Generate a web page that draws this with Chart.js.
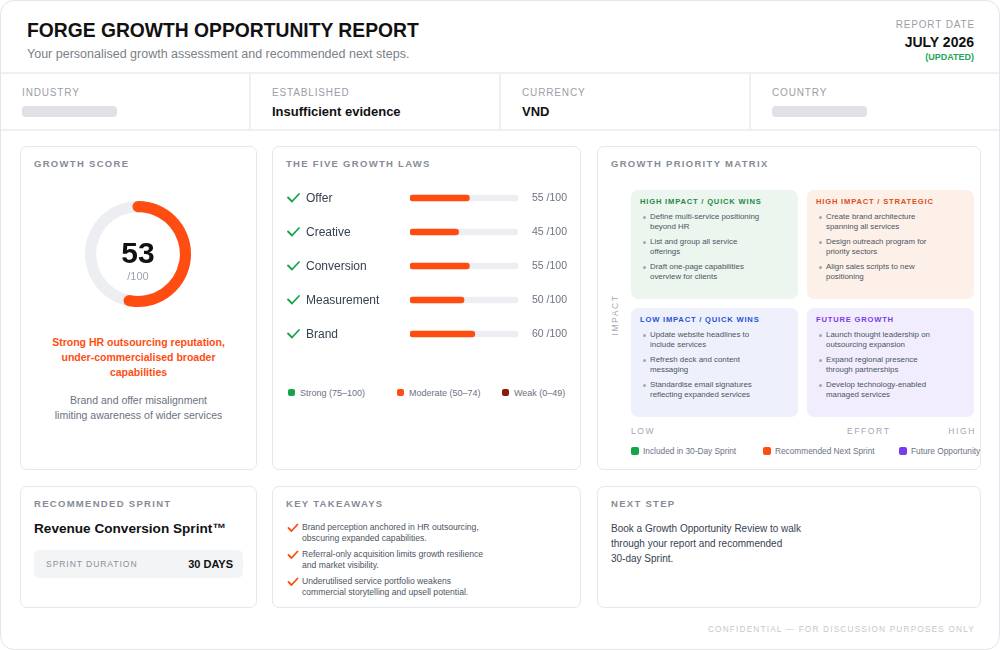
<!DOCTYPE html>
<html>
<head>
<meta charset="utf-8">
<script src="https://cdn.jsdelivr.net/npm/chart.js@4.4.1/dist/chart.umd.min.js"></script>
<style>
  html, body { margin: 0; padding: 0; background: #ffffff; }
  body { width: 1000px; height: 650px; position: relative; overflow: hidden;
         font-family: "Liberation Sans", Arial, sans-serif; color: #111827; }
  .frame { position: absolute; left: 0; top: 0; width: 998px; height: 648px;
           border: 1px solid #e3e5e9; border-radius: 14px; }
  .abs { position: absolute; white-space: nowrap; }
  .hline { position: absolute; left: 1px; width: 998px; height: 2px; background: #eff0f3; }
  .vline { position: absolute; top: 74px; width: 2px; height: 56px; background: #eff0f3; }
  .lbl { font-size: 10px; line-height: 12px; letter-spacing: 0.85px; color: #9a9ea6; }
  .val { font-size: 13px; line-height: 16px; font-weight: bold; color: #111111; }
  .ph { position: absolute; width: 95px; height: 11px; border-radius: 4px; background: #dfe1e6; }
  .card { position: absolute; border: 1px solid #e6e8ec; border-radius: 7px; background: #fff; box-sizing: border-box; }
  .ctitle { font-size: 9.5px; line-height: 12px; font-weight: bold; letter-spacing: 1.3px; color: #868b94; }
  .leg { font-size: 9px; line-height: 11px; color: #6b7280; }
  .sq { position: absolute; width: 8px; height: 8px; border-radius: 2px; }
  .quad { position: absolute; width: 167px; height: 109px; border-radius: 7px; }
  .qt { position: absolute; left: 9px; top: 7px; font-size: 7.6px; line-height: 10px; font-weight: bold; letter-spacing: 0.8px; white-space: nowrap; }
  .qi { position: absolute; left: 19px; font-size: 7.9px; line-height: 10.5px; color: #4b5563; white-space: nowrap; }
  .qi::before { content: ""; position: absolute; left: -7px; top: 4px; width: 3px; height: 3px; border-radius: 50%; background: #a3a7ae; }
  .axl { font-size: 8.5px; line-height: 10px; letter-spacing: 1.6px; color: #a3a7ae; }
  .kt { position: absolute; left: 16px; font-size: 8.6px; line-height: 11px; color: #4b5563; white-space: nowrap; }
</style>
</head>
<body>
<div class="frame"></div>

<!-- header -->
<div class="abs" style="left:27px;top:19px;font-size:19.3px;line-height:24px;font-weight:bold;color:#111;">FORGE GROWTH OPPORTUNITY REPORT</div>
<div class="abs" style="left:27px;top:46px;font-size:12.5px;line-height:16px;color:#7a7f88;">Your personalised growth assessment and recommended next steps.</div>
<div class="abs lbl" style="right:25px;top:19px;">REPORT DATE</div>
<div class="abs" style="right:26px;top:34px;font-size:14px;line-height:16px;font-weight:bold;color:#111;">JULY 2026</div>
<div class="abs" style="right:26px;top:52px;font-size:9px;line-height:11px;font-weight:bold;color:#22a75a;">(UPDATED)</div>

<div class="hline" style="top:72px;"></div>
<div class="hline" style="top:129px;"></div>
<div class="vline" style="left:249px;"></div>
<div class="vline" style="left:499px;"></div>
<div class="vline" style="left:749px;"></div>

<div id="infoRow"></div>

<!-- growth score -->
<div class="card" style="left:20px;top:146px;width:237px;height:324px;"></div>
<div class="abs ctitle" style="left:34px;top:158px;">GROWTH SCORE</div>
<canvas id="scoreChart" width="108" height="108" style="position:absolute;left:84px;top:200px;"></canvas>
<div class="abs" id="scoreNum" style="left:88px;width:100px;text-align:center;top:237px;font-size:30px;line-height:32px;font-weight:bold;color:#111;"></div>
<div class="abs" style="left:88px;width:100px;text-align:center;top:270px;font-size:11px;line-height:13px;color:#9ca3af;">/100</div>
<div class="abs" style="left:20px;width:237px;text-align:center;top:335px;font-size:10.5px;line-height:15px;font-weight:bold;color:#ff4d12;">Strong HR outsourcing reputation,<br>under-commercialised broader<br>capabilities</div>
<div class="abs" style="left:20px;width:237px;text-align:center;top:393px;font-size:10.5px;line-height:15px;color:#6b7280;">Brand and offer misalignment<br>limiting awareness of wider services</div>

<!-- five growth laws -->
<div class="card" style="left:272px;top:146px;width:309px;height:324px;"></div>
<div class="abs ctitle" style="left:286px;top:158px;">THE FIVE GROWTH LAWS</div>
<canvas id="lawsChart" width="284" height="170" style="position:absolute;left:286px;top:181px;"></canvas>
<div id="lawsLegend"></div>

<!-- matrix -->
<div class="card" style="left:597px;top:146px;width:384px;height:324px;"></div>
<div class="abs ctitle" style="left:611px;top:158px;">GROWTH PRIORITY MATRIX</div>
<div class="abs axl" style="left:585px;top:310px;width:60px;text-align:center;transform:rotate(-90deg);">IMPACT</div>
<div id="matrix"></div>
<div class="abs axl" style="left:631px;top:426px;">LOW</div>
<div class="abs axl" style="left:847px;top:426px;">EFFORT</div>
<div class="abs axl" style="right:24px;top:426px;">HIGH</div>
<div id="matrixLegend"></div>

<!-- bottom row -->
<div class="card" style="left:20px;top:486px;width:237px;height:122px;"></div>
<div class="abs ctitle" style="left:34px;top:498px;">RECOMMENDED SPRINT</div>
<div class="abs" style="left:34px;top:520px;font-size:13.6px;line-height:18px;font-weight:bold;color:#111;">Revenue Conversion Sprint™</div>
<div class="abs" style="left:34px;top:550px;width:209px;height:28px;border-radius:5px;background:#f3f4f6;"></div>
<div class="abs" style="left:46px;top:559px;font-size:8.6px;line-height:11px;letter-spacing:0.9px;color:#8b9099;">SPRINT DURATION</div>
<div class="abs" style="right:767px;top:557px;font-size:11px;line-height:14px;font-weight:bold;color:#111;">30 DAYS</div>

<div class="card" style="left:272px;top:486px;width:309px;height:122px;"></div>
<div class="abs ctitle" style="left:286px;top:498px;">KEY TAKEAWAYS</div>
<div id="takeaways" style="position:absolute;left:286px;top:522px;"></div>

<div class="card" style="left:597px;top:486px;width:384px;height:122px;"></div>
<div class="abs ctitle" style="left:611px;top:498px;">NEXT STEP</div>
<div class="abs" style="left:611px;top:521px;font-size:10px;line-height:15px;color:#374151;">Book a Growth Opportunity Review to walk<br>through your report and recommended<br>30-day Sprint.</div>

<div class="abs" style="right:25px;top:624px;font-size:8.3px;line-height:10px;letter-spacing:1.15px;color:#c4c8ce;">CONFIDENTIAL — FOR DISCUSSION PURPOSES ONLY</div>

<script>
// ---- data ----
const infoLabels = ["INDUSTRY", "ESTABLISHED", "CURRENCY", "COUNTRY"];
const infoValues = [null, "Insufficient evidence", "VND", null];

const scoreParts = [53, 47];          // score, remainder out of 100
const lawNames = ["Offer", "Creative", "Conversion", "Measurement", "Brand"];
const lawScores = [55, 45, 55, 50, 60];
const lawTrack = [100, 100, 100, 100, 100];
const lawLegend = ["Strong (75–100)", "Moderate (50–74)", "Weak (0–49)"];
const lawLegendColors = ["#16a34a", "#ff4d12", "#8a1c0f"];

const quadTitles = ["HIGH IMPACT / QUICK WINS", "HIGH IMPACT / STRATEGIC", "LOW IMPACT / QUICK WINS", "FUTURE GROWTH"];
const quadItems = [
  [["Define multi-service positioning", "beyond HR"], ["List and group all service", "offerings"], ["Draft one-page capabilities", "overview for clients"]],
  [["Create brand architecture", "spanning all services"], ["Design outreach program for", "priority sectors"], ["Align sales scripts to new", "positioning"]],
  [["Update website headlines to", "include services"], ["Refresh deck and content", "messaging"], ["Standardise email signatures", "reflecting expanded services"]],
  [["Launch thought leadership on", "outsourcing expansion"], ["Expand regional presence", "through partnerships"], ["Develop technology-enabled", "managed services"]]
];
const matrixLegend = ["Included in 30-Day Sprint", "Recommended Next Sprint", "Future Opportunity"];

const takeaways = [
  ["Brand perception anchored in HR outsourcing,", "obscuring expanded capabilities."],
  ["Referral-only acquisition limits growth resilience", "and market visibility."],
  ["Underutilised service portfolio weakens", "commercial storytelling and upsell potential."]
];

const ORANGE = "#ff4d12";
const TRACK = "#eceef2";
Chart.defaults.font.family = '"Liberation Sans", Arial, sans-serif';

// ---- info row ----
let html = "";
infoLabels.forEach((l, i) => {
  const x = 22 + i * 250;
  html += `<div class="abs lbl" style="left:${x}px;top:87px;">${l}</div>`;
  if (infoValues[i]) html += `<div class="abs val" style="left:${x}px;top:104px;">${infoValues[i]}</div>`;
  else html += `<div class="ph" style="left:${x}px;top:106px;"></div>`;
});
document.getElementById("infoRow").innerHTML = html;

// ---- score doughnut ----
document.getElementById("scoreNum").textContent = scoreParts[0];
const ringTrack = {
  id: "ringTrack",
  beforeDatasetsDraw(chart) {
    const a = chart.getDatasetMeta(0).data[0];
    const c = chart.ctx;
    c.save();
    c.beginPath();
    c.arc(a.x, a.y, a.outerRadius, 0, Math.PI * 2);
    c.arc(a.x, a.y, a.innerRadius, 0, Math.PI * 2, true);
    c.fillStyle = TRACK;
    c.fill();
    c.restore();
  },
  afterDatasetsDraw(chart) {
    // round caps on the score arc
    const a = chart.getDatasetMeta(0).data[0];
    const c = chart.ctx;
    const mid = (a.outerRadius + a.innerRadius) / 2;
    const r = (a.outerRadius - a.innerRadius) / 2;
    c.save();
    c.fillStyle = ORANGE;
    [a.startAngle, a.endAngle].forEach((ang) => {
      c.beginPath();
      c.arc(a.x + Math.cos(ang) * mid, a.y + Math.sin(ang) * mid, r, 0, Math.PI * 2);
      c.fill();
    });
    c.restore();
  }
};
new Chart(document.getElementById("scoreChart"), {
  type: "doughnut",
  data: {
    datasets: [{
      data: scoreParts,
      backgroundColor: [ORANGE, "rgba(0,0,0,0)"],
      borderWidth: 0
    }]
  },
  options: {
    responsive: false,
    animation: false,
    cutout: "79%",
    layout: { padding: 1 },
    plugins: { legend: { display: false }, tooltip: { enabled: false } }
  },
  plugins: [ringTrack]
});

// ---- five growth laws bars ----
const lawLabels = {
  id: "lawLabels",
  afterDraw(chart) {
    const c = chart.ctx;
    const ys = chart.scales.y;
    const right = chart.chartArea.right;
    c.save();
    lawNames.forEach((name, i) => {
      const y = ys.getPixelForValue(i);
      // check mark
      c.strokeStyle = "#16a34a";
      c.lineWidth = 1.8;
      c.lineCap = "round";
      c.lineJoin = "round";
      c.beginPath();
      c.moveTo(2, y - 0.5);
      c.lineTo(6, y + 3.5);
      c.lineTo(13, y - 4);
      c.stroke();
      c.fillStyle = "#374151";
      c.font = '12px "Liberation Sans", Arial, sans-serif';
      c.textBaseline = "middle";
      c.fillText(name, 20, y + 0.5);
      c.fillStyle = "#6b7280";
      c.font = '10.5px "Liberation Sans", Arial, sans-serif';
      c.fillText(lawScores[i] + " /100", right + 14, y + 0.5);
    });
    c.restore();
  }
};
new Chart(document.getElementById("lawsChart"), {
  type: "bar",
  data: {
    labels: lawNames,
    datasets: [
      { data: lawScores, backgroundColor: ORANGE, barThickness: 6, borderRadius: 3, borderSkipped: false, grouped: false },
      { data: lawTrack, backgroundColor: TRACK, barThickness: 6, borderRadius: 3, borderSkipped: false, grouped: false }
    ]
  },
  options: {
    indexAxis: "y",
    responsive: false,
    animation: false,
    layout: { padding: { left: 124, right: 52, top: 0, bottom: 0 } },
    scales: {
      x: { min: 0, max: 100, display: false },
      y: { display: false }
    },
    plugins: { legend: { display: false }, tooltip: { enabled: false } }
  },
  plugins: [lawLabels]
});

html = "";
[288, 397, 502].forEach((x, i) => {
  html += `<div class="sq" style="left:${x}px;top:389px;width:7px;height:7px;background:${lawLegendColors[i]};"></div>`;
  html += `<div class="abs leg" style="left:${x + 12}px;top:387.5px;">${lawLegend[i]}</div>`;
});
document.getElementById("lawsLegend").innerHTML = html;

// ---- matrix ----
const quadPos = [[631, 190], [807, 190], [631, 308], [807, 308]];
const quadBg = ["#ecf6ee", "#fdf0e8", "#eef1fc", "#f1edfc"];
const quadFg = ["#1f8a46", "#d9501a", "#2454d6", "#7c3aed"];
html = "";
quadTitles.forEach((t, q) => {
  let inner = `<div class="qt" style="color:${quadFg[q]};">${t}</div>`;
  quadItems[q].forEach((lines, k) => {
    inner += `<div class="qi" style="top:${21.5 + k * 25}px;">${lines.join("<br>")}</div>`;
  });
  html += `<div class="quad" style="left:${quadPos[q][0]}px;top:${quadPos[q][1]}px;background:${quadBg[q]};">${inner}</div>`;
});
document.getElementById("matrix").innerHTML = html;

html = "";
const mlColors = ["#16a34a", ORANGE, "#7c3aed"];
[631, 763, 899].forEach((x, i) => {
  html += `<div class="sq" style="left:${x}px;top:447px;background:${mlColors[i]};"></div>`;
  html += `<div class="abs leg" style="left:${x + 12}px;top:445.5px;font-size:8.3px;">${matrixLegend[i]}</div>`;
});
document.getElementById("matrixLegend").innerHTML = html;

// ---- takeaways ----
html = "";
takeaways.forEach((lines, i) => {
  const top = i * 27;
  html += `<svg style="position:absolute;left:1px;top:${top + 1}px;" width="12" height="10" viewBox="0 0 12 10"><path d="M1.5 5 L4.5 8 L10.5 1.5" fill="none" stroke="${ORANGE}" stroke-width="1.8" stroke-linecap="round" stroke-linejoin="round"/></svg>`;
  html += `<div class="kt" style="top:${top}px;">${lines.join("<br>")}</div>`;
});
document.getElementById("takeaways").innerHTML = html;
</script>
</body>
</html>
